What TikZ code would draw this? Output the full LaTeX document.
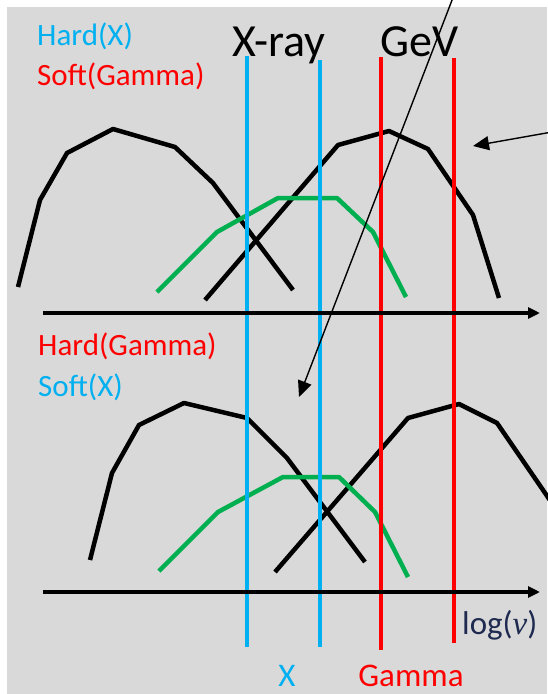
\documentclass[tikz,border=0pt]{standalone}
\usepackage{fontspec}
\setmainfont{Carlito}
\newfontfamily\nufont{Liberation Serif}
\usetikzlibrary{arrows.meta}

\definecolor{xblue}{HTML}{00B0F0}
\definecolor{gred}{HTML}{FF0000}
\definecolor{sedgreen}{HTML}{00B050}
\definecolor{panelgray}{HTML}{D9D9D9}
\definecolor{axisnavy}{HTML}{1F2A50}

\begin{document}
\begin{tikzpicture}[
    x=1pt, y=-1pt,
    every node/.style={inner sep=0pt},
    hardsoft/.style={anchor=base west, font=\fontsize{31}{36}\selectfont},
    bandtitle/.style={anchor=base west, font=\fontsize{46}{52}\selectfont},
    bandname/.style={anchor=base, font=\fontsize{33}{38}\selectfont},
    band/.style={line width=3.5pt},
    spectrum/.style={line width=4.5pt, line join=round},
    sed/.style={spectrum, sedgreen},
    freqaxis/.style={line width=3.5pt, -{Triangle[length=12pt,width=11pt]}},
    pointer/.style={line width=1.4pt, -{Triangle[length=16pt,width=14pt]}}
]
\useasboundingbox (0,0) rectangle (547,694);
\fill[panelgray] (7,7) rectangle (547,694);

% upper panel: hard X, soft gamma
\draw[spectrum] (18,287) -- (40,200) -- (67,153) -- (113,129) -- (175,147)
    -- (213,183) -- (293,290);
\draw[spectrum] (205,300) -- (338,145) -- (389,131) -- (428,149) -- (473,215)
    -- (499,298);
\draw[sed] (157,292) -- (217,232) -- (278,198) -- (337,198) -- (373,232)
    -- (406,297);

% lower panel: hard gamma, soft X
\draw[spectrum] (90,560) -- (112,473) -- (139,425) -- (184,403) -- (247,418)
    -- (287,458) -- (365,562);
\draw[spectrum] (275,572) -- (408,418) -- (459,404) -- (497,423) -- (543,490)
    -- (560,515);
\draw[sed] (159,571) -- (218,512) -- (283,477) -- (339,477) -- (375,512)
    -- (408,577);

% energy bands
\draw[band, xblue] (247,56) -- (247,647);
\draw[band, xblue] (320,60) -- (320,647);
\draw[band, gred] (381,57) -- (381,650);
\draw[band, gred] (454,58) -- (454,643);

% axes
\coordinate (upperaxis start) at (43,313);
\coordinate (upperaxis end) at (540,313);
\coordinate (loweraxis start) at (43,592);
\coordinate (loweraxis end) at (540,592);
\draw[freqaxis] (upperaxis start) -- (upperaxis end);
\draw[freqaxis] (loweraxis start) -- (loweraxis end);

% labels
\node[hardsoft, xblue] (hardx) at (37,45) {Hard(X)};
\node[hardsoft, gred] (softgamma) at (37,85) {Soft(Gamma)};
\node[hardsoft, gred] (hardgamma) at (38,355) {Hard(Gamma)};
\node[hardsoft, xblue] (softx) at (38,396) {Soft(X)};
\node[bandtitle] (xray) at (232,56) {X-ray};
\node[bandtitle] (gev) at (380,56) {GeV};
\node[bandname, xblue] (xband) at (287,686) {X};
\node[bandname, gred] (gammaband) at (411,686) {Gamma};
\node[hardsoft, axisnavy, font=\fontsize{33}{38}\selectfont] (lognu) at (462,634)
    {log({\nufont\itshape ν})};

% pointers
\coordinate (lowerpointer start) at (454,-5);
\coordinate (lowerpointer tip) at (299,397);
\coordinate (upperpointer start) at (552,132);
\coordinate (upperpointer tip) at (473,146);
\draw[pointer] (lowerpointer start) -- (lowerpointer tip);
\draw[pointer] (upperpointer start) -- (upperpointer tip);
\end{tikzpicture}
\end{document}
